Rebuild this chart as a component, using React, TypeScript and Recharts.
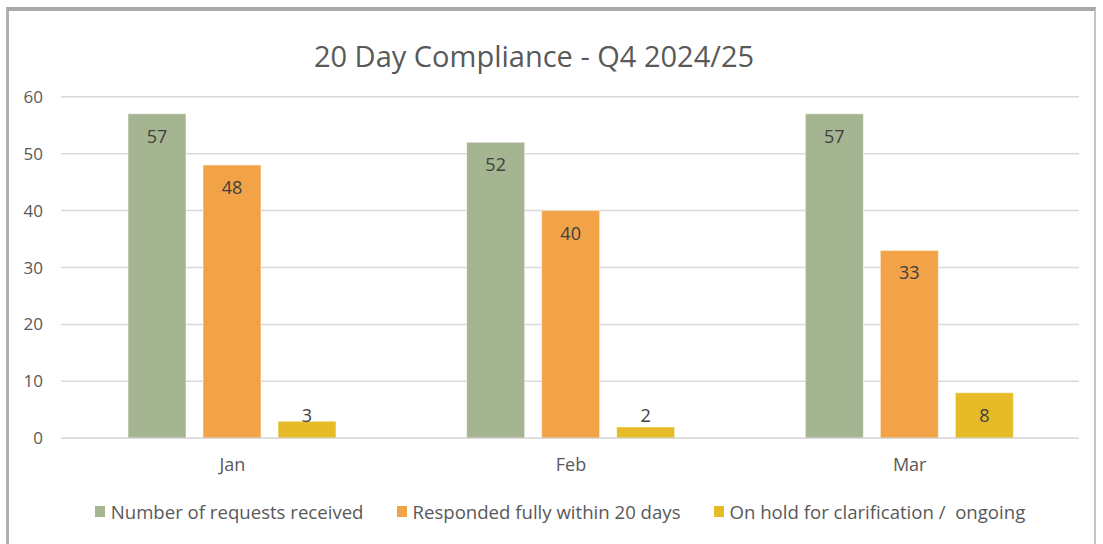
import React from "react"
import {
  BarChart,
  Bar,
  XAxis,
  YAxis,
  CartesianGrid,
  LabelList,
} from "recharts"

const months = ["Jan", "Feb", "Mar"]
const received = [57, 52, 57]
const responded = [48, 40, 33]
const onHold = [3, 2, 8]
const yTicks = [0, 10, 20, 30, 40, 50, 60]

const seriesNames = [
  "Number of requests received",
  "Responded fully within 20 days",
  "On hold for clarification /  ongoing",
]
const seriesColors = ["#A5B592", "#F2A347", "#E5BB28"]

const data = months.map((m, i) => ({
  month: m,
  received: received[i],
  responded: responded[i],
  onHold: onHold[i],
}))

const FONT = "'Open Sans', 'Segoe UI', sans-serif"
const TEXT = "#595959"

// Excel-style "inside end" label: sits inside the top of the bar,
// but never lower than a fixed distance above the baseline
function InsideEndLabel(props: any) {
  const { x, y, width, height, value } = props
  const cy = Math.min(y + 22, y + height - 23)
  return (
    <text
      x={x + width / 2}
      y={cy}
      textAnchor="middle"
      dominantBaseline="central"
      fill="#404040"
      fontSize={18}
      fontFamily={FONT}
    >
      {value}
    </text>
  )
}

export default function App() {
  const keys = ["received", "responded", "onHold"]
  return (
    <div
      style={{
        position: "absolute",
        left: 0,
        top: 0,
        width: 1103,
        height: 544,
        background: "#fff",
        overflow: "hidden",
        fontFamily: FONT,
      }}
    >
      {/* chart frame */}
      <div
        style={{
          position: "absolute",
          left: 6,
          top: 7,
          width: 1090,
          height: 540,
          borderTop: "4px solid #a9a9a9",
          borderLeft: "3px solid #b0b0b0",
          borderRight: "2px solid #c4c4c4",
          boxSizing: "border-box",
        }}
      />

      <div
        style={{
          position: "absolute",
          left: 0,
          top: 36,
          width: 1068,
          textAlign: "center",
          fontSize: 29,
          color: TEXT,
        }}
      >
        20 Day Compliance - Q4 2024/25
      </div>

      <div style={{ position: "absolute", left: 0, top: 0 }}>
        <BarChart
          width={1103}
          height={544}
          data={data}
          margin={{ top: 96.7, right: 24, left: 0, bottom: 65.7 }}
          barCategoryGap={65}
          barGap={17}
        >
          <CartesianGrid vertical={false} stroke="#d9d9d9" strokeWidth={1.5} />
          <XAxis
            dataKey="month"
            height={40}
            padding={{ left: 2, right: 0 }}
            axisLine={{ stroke: "#d9d9d9", strokeWidth: 1.5 }}
            tickLine={false}
            tickMargin={14}
            tick={{ fill: TEXT, fontSize: 18, fontFamily: FONT }}
          />
          <YAxis
            width={61}
            domain={[0, 60]}
            ticks={yTicks}
            axisLine={false}
            tickLine={false}
            tickMargin={12}
            tick={{ fill: TEXT, fontSize: 17, fontFamily: FONT }}
          />
          {keys.map((k, i) => (
            <Bar
              key={k}
              dataKey={k}
              name={seriesNames[i]}
              fill={seriesColors[i]}
              stroke="#ffffff"
              strokeOpacity={0.5}
              isAnimationActive={false}
            >
              <LabelList dataKey={k} content={InsideEndLabel} />
            </Bar>
          ))}
        </BarChart>
      </div>

      {/* legend */}
      <div
        style={{
          position: "absolute",
          left: 0,
          top: 499,
          width: 1120,
          display: "flex",
          justifyContent: "center",
          gap: 33,
          fontSize: 18.6,
          color: TEXT,
        }}
      >
        {seriesNames.map((n, i) => (
          <div key={n} style={{ display: "flex", alignItems: "center" }}>
            <span
              style={{
                display: "inline-block",
                width: 10,
                height: 11,
                background: seriesColors[i],
                marginRight: 6,
              }}
            />
            <span style={{ whiteSpace: "pre" }}>{n}</span>
          </div>
        ))}
      </div>
    </div>
  )
}
